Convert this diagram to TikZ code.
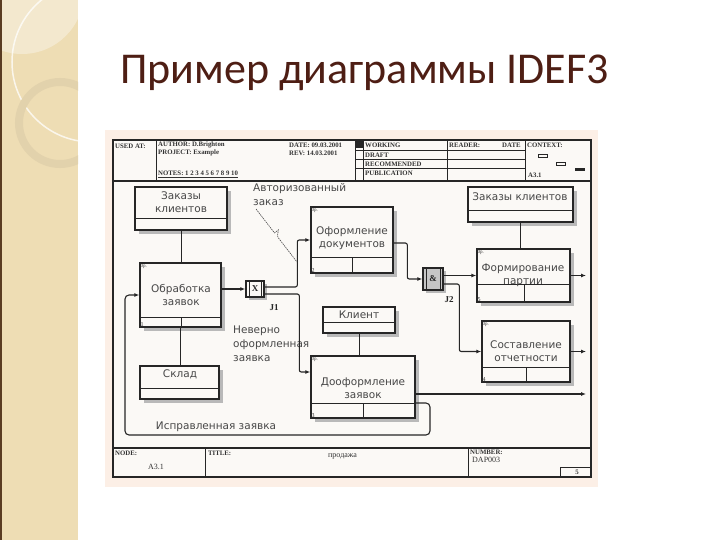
\documentclass[tikz,border=0pt]{standalone}
\usepackage{fontspec}
\setmainfont{DejaVu Sans}
\newfontfamily\titlefont{Carlito}
\newfontfamily\boxfont{DejaVu Sans}
\newfontfamily\hdrfont{Liberation Serif}
\usetikzlibrary{arrows.meta,fit,calc}
\definecolor{stripc}{HTML}{EEDDB4}
\definecolor{ringc}{HTML}{E2D2AC}
\definecolor{edgec}{HTML}{5A3C22}
\definecolor{titlec}{HTML}{4E1E14}
\definecolor{peach}{HTML}{FCEFE6}
\definecolor{paper}{HTML}{FBF9F6}
\definecolor{ink}{HTML}{262626}
\tikzset{
  shad/.style={fill=gray!55},
  boxst/.style={draw=ink, line width=1.4pt, fill=paper, inner sep=0pt},
  divst/.style={draw=ink, line width=0.8pt},
  btxt/.style={font=\boxfont\fontsize{10.5}{13}\selectfont, text=black!72, inner sep=0pt, align=center},
  lbl/.style={font=\boxfont\fontsize{10.5}{14}\selectfont, text=black!72, inner sep=0pt, align=left},
  hdr/.style={font=\hdrfont\bfseries\fontsize{6.8}{7}\selectfont, text=black!80, inner sep=0pt, anchor=west},
  crn/.style={font=\hdrfont\fontsize{5}{5}\selectfont, text=black!80, inner sep=0.5pt, anchor=north west},
  num/.style={font=\hdrfont\fontsize{6}{6}\selectfont, text=black!80, inner sep=0.5pt, anchor=south west},
  jtxt/.style={font=\hdrfont\bfseries\fontsize{9}{9}\selectfont, text=ink, inner sep=0pt},
  conn/.style={draw=ink, line width=1.1pt, rounded corners=2pt, -{Latex[length=5pt,width=4pt]}},
  plain/.style={draw=ink, line width=0.8pt},
  frm/.style={draw=ink, line width=1pt}
}
\newcommand{\refbox}[6]{%
  \fill[shad] (#2+4,#3+4) rectangle (#4+4,#5+4);
  \node[boxst, fit={(#2,#3) (#4,#5)}] (#1) {};
  \draw[divst] (#2,#6) -- (#4,#6);
}
\newcommand{\uobbox}[8]{%
  \fill[shad] (#2+4,#3+4) rectangle (#4+4,#5+4);
  \node[boxst, fit={(#2,#3) (#4,#5)}] (#1) {};
  \draw[divst] (#2,#6) -- (#4,#6);
  \draw[divst] (#7,#6) -- (#7,#5);
  \node[crn] (#1-c) at (#2,#3) {0p.};
  \node[num] (#1-n) at (#2,#5) {#8};
}
\begin{document}
\begin{tikzpicture}[x=1pt,y=-1pt]
\useasboundingbox (0,0) rectangle (720,540);
\fill[white] (0,0) rectangle (720,540);
% decorative strip
\begin{scope}
  \clip (0,0) rectangle (78,540);
  \fill[stripc] (0,0) rectangle (78,540);
  \fill[white,opacity=.35] (22,-8) circle (62);
  \draw[white,opacity=.75,line width=1.5pt] (92,62) circle (80);
  \draw[ringc,line width=8pt] (60,123) circle (41);
\end{scope}
\fill[edgec] (0,0) rectangle (2,540);
% title
\node[font=\titlefont\fontsize{44}{50}\selectfont, text=titlec, anchor=base west, inner sep=0pt] (title) at (120,84) {Пример диаграммы IDEF3};
% picture background and frame
\fill[peach] (105,130) rectangle (598,487);
\fill[paper] (113,140) rectangle (591,477);
\draw[frm, line width=1.3pt] (113,140) rectangle (591,477);
\draw[frm, line width=1.3pt] (113,181) -- (591,181);
\draw[frm, line width=1.3pt] (113,448) -- (591,448);
% header
\draw[frm] (156,140) -- (156,181);
\draw[frm] (355,140) -- (355,181);
\draw[frm] (363,140) -- (363,181);
\draw[frm] (447,140) -- (447,181);
\draw[frm] (525,140) -- (525,181);
\fill[ink] (355,140) rectangle (363,148);
\draw[frm, line width=0.7pt] (355,150) -- (525,150);
\draw[frm, line width=0.7pt] (355,159) -- (525,159);
\draw[frm, line width=0.7pt] (355,168) -- (525,168);
\node[hdr] (h1) at (115,146) {USED AT:};
\node[hdr] (h2) at (158,145) {AUTHOR: D.Brighton};
\node[hdr] (h3) at (158,153) {PROJECT: Example};
\node[hdr] (h4) at (158,174) {\underline{NOTES: 1 2 3 4 5 6 7 8 9 10}};
\node[hdr] (h5) at (289,145) {DATE: 09.03.2001};
\node[hdr] (h6) at (289,153) {REV: 14.03.2001};
\node[hdr] (h7) at (365,145) {WORKING};
\node[hdr] (h8) at (365,155) {DRAFT};
\node[hdr] (h9) at (365,164) {RECOMMENDED};
\node[hdr] (h10) at (365,173) {PUBLICATION};
\node[hdr] (h11) at (449,145) {READER:};
\node[hdr] (h12) at (502,145) {DATE};
\node[hdr] (h13) at (527,145) {CONTEXT:};
\node[hdr] (h14) at (528,175) {A3.1};
\draw[frm, line width=0.6pt] (538,154) rectangle (547,157);
\draw[frm, line width=0.6pt] (556,162) rectangle (565,165);
\fill[ink] (575,168) rectangle (585,171);
% footer
\draw[frm] (205,448) -- (205,477);
\draw[frm] (468,448) -- (468,477);
\draw[frm, line width=0.7pt] (560,467) rectangle (591,477);
\node[hdr] (f1) at (115,453) {NODE:};
\node[hdr, font=\hdrfont\fontsize{8}{8}\selectfont] (f2) at (148,467) {A3.1};
\node[hdr] (f3) at (208,453) {TITLE:};
\node[hdr, font=\hdrfont\fontsize{8}{8}\selectfont] (f4) at (328,456) {продажа};
\node[hdr] (f5) at (470,452) {NUMBER:};
\node[hdr, font=\hdrfont\fontsize{8}{8}\selectfont] (f6) at (472,460) {DAP003};
\node[hdr, anchor=center] (f7) at (577,472) {5};
% boxes
\refbox{zk1}{135}{187}{227}{230}{218}
\node[btxt] (zk1-t) at (181,202.5) {Заказы\\клиентов};
\uobbox{ob}{140}{263}{221}{327}{317}{181}{1}
\node[btxt] (ob-t) at (181,294.5) {Обработка\\заявок};
\refbox{sk}{140}{366}{219}{399}{388}
\node[btxt] (sk-t) at (180,374) {Склад};
\uobbox{of}{311}{207}{393}{273}{257}{352}{2}
\node[btxt] (of-t) at (352,238.5) {Оформление\\документов};
\refbox{kl}{323}{307}{395}{333}{322}
\node[btxt] (kl-t) at (359,315) {Клиент};
\uobbox{do}{311}{356}{415}{418}{403}{363}{3}
\node[btxt] (do-t) at (363,388) {Дооформление\\заявок};
\refbox{zk2}{468}{187}{573}{222}{210}
\node[btxt] (zk2-t) at (520,197) {Заказы клиентов};
\uobbox{fp}{477}{249}{570}{302}{284}{524}{5}
\node[btxt] (fp-t) at (523,275) {Формирование\\партии};
\uobbox{so}{482}{321}{570}{382}{367}{526}{4}
\node[btxt] (so-t) at (526,351) {Составление\\отчетности};
% junctions
\fill[shad] (249,284) rectangle (267,300);
\node[boxst, fit={(246,281) (264,297)}] (j1) {};
\draw[divst] (249,281) -- (249,297);
\draw[divst] (261,281) -- (261,297);
\node[jtxt] (j1-t) at (255,289) {X};
\node[jtxt] (j1-l) at (274,308) {J1};
\fill[shad] (426,271) rectangle (446,293);
\node[boxst, fill=gray!45, fit={(423,268) (443,290)}] (j2) {};
\draw[divst] (426,268) -- (426,290);
\draw[divst] (440,268) -- (440,290);
\node[jtxt] (j2-t) at (433,279) {\&};
\node[jtxt] (j2-l) at (449,300) {J2};
% labels
\node[lbl, anchor=north west] (la) at (253,183) {Авторизованный\\заказ};
\node[lbl, anchor=north west] (lb) at (233,326) {Неверно\\оформленная\\заявка};
\node[lbl] (lc) at (216,427) {Исправленная заявка};
% coordinates
\coordinate (rx) at (586,0);
\coordinate (doout) at (586,394);
\coordinate (lp1) at (430,435);
\coordinate (lp2) at (125,435);
\coordinate (ldst) at (256,209);
\coordinate (ldend) at (297,262);
% plain links
\draw[plain] (zk1.south) -- (zk1.south |- ob.north);
\draw[plain] (ob.south) -- (ob.south |- sk.north);
\draw[plain] (zk2.south) -- (zk2.south |- fp.north);
\draw[plain] (kl.south) -- (kl.south |- do.north);
% connectors
\draw[conn] (ob.east |- j1.west) -- (j1.west);
\draw[conn] ([yshift=2pt]j1.east) -| ([xshift=-13pt]of.west) -- (of.west);
\draw[conn] ([yshift=-5pt]j1.east) -| ([xshift=-11pt,yshift=15pt]do.west) -- ([yshift=15pt]do.west);
\draw[conn] ([yshift=-3pt]of.east) -| ([xshift=-15pt]j2.west) -- (j2.west);
\draw[conn] (j2.east |- fp.west) -- (fp.west);
\draw[conn] ([yshift=-5pt]j2.east) -| ([xshift=-22pt]so.west) -- (so.west);
\draw[conn] (fp.east) -- (fp.east -| rx);
\draw[conn] (so.east) -- (so.east -| rx);
\draw[conn] (do.east |- doout) -- (doout);
\draw[conn, rounded corners=4pt] ([yshift=-16pt]do.east) -| (lp1) -- (lp2) |- (ob.west);
% leader of the label
\draw[draw=black!70, line width=0.6pt, dash pattern=on 1.5pt off 0.8pt]
  (ldst) -- ($(ldst)!0.45!(ldend)$) -- ++(4,-3) -- ++(-1,6) -- ($(ldst)!0.55!(ldend)$) -- (ldend);
\end{tikzpicture}
\end{document}
